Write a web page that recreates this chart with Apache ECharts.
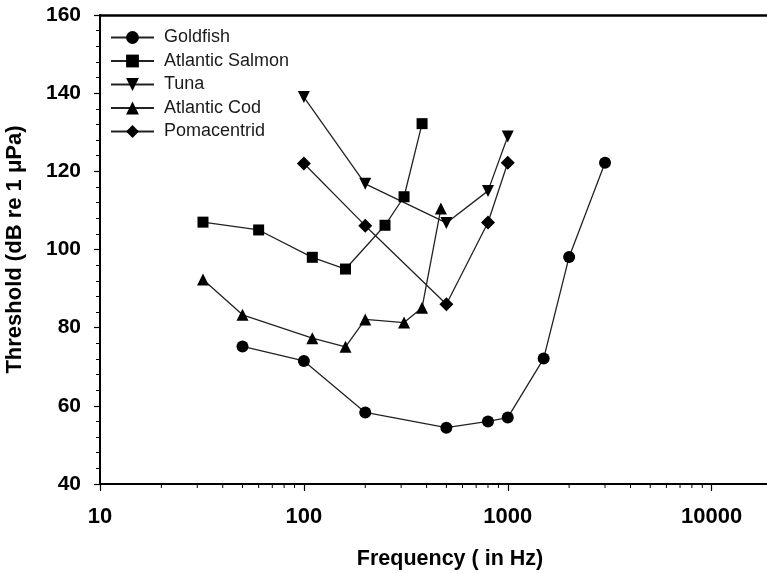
<!DOCTYPE html>
<html>
<head>
<meta charset="utf-8">
<script src="https://cdn.jsdelivr.net/npm/echarts@6/dist/echarts.min.js"></script>
<style>
  html, body { margin: 0; padding: 0; background: #fff; }
  #chart1 { width: 767px; height: 573px; }
</style>
</head>
<body>
<div id="chart1"></div>
<script>
// frequency (Hz), threshold (dB re 1 uPa)
var goldfish = [[50, 75.2], [100, 71.5], [200, 58.3], [500, 54.4], [800, 56], [1000, 57], [1500, 72.1], [2000, 98.1], [3000, 122.2]];
var atlanticSalmon = [[32, 107], [60, 105], [110, 98], [160, 95], [250, 106.2], [310, 113.5], [380, 132.2]];
var tuna = [[100, 139], [200, 116.8], [500, 106.8], [800, 115], [1000, 128.9]];
var atlanticCod = [[32, 92.3], [50, 83.3], [110, 77.3], [160, 75.1], [200, 82.1], [310, 81.3], [380, 85.1], [470, 110.5]];
var pomacentrid = [[100, 122], [200, 106.1], [500, 86], [800, 106.9], [1000, 122.2]];

var seriesNames = ['Goldfish', 'Atlantic Salmon', 'Tuna', 'Atlantic Cod', 'Pomacentrid'];
var yTicks = [40, 60, 80, 100, 120, 140, 160];
var xTicks = [10, 100, 1000, 10000];

var fontFam = "'Liberation Sans', Arial, sans-serif";

function makeSeries(name, data, symbol, size, rotate) {
  return {
    name: name,
    type: 'line',
    data: data,
    symbol: symbol,
    symbolSize: size,
    symbolRotate: rotate || 0,
    showAllSymbol: true,
    z: 3,
    lineStyle: { color: '#222', width: 1.3 },
    itemStyle: { color: '#000', borderWidth: 0 }
  };
}

var myChart = echarts.init(document.getElementById('chart1'));
var option = {
  animation: false,
  backgroundColor: '#fff',
  grid: {
    left: 100,
    top: 15,
    right: -6,
    bottom: 89,
    outerBoundsMode: 'none',
    containLabel: false,
    show: false
  },
  legend: {
    orient: 'vertical',
    left: 110,
    top: 28.5,
    padding: 0,
    itemWidth: 43,
    itemHeight: 16,
    itemGap: 5.5,
    data: seriesNames,
    textStyle: {
      fontFamily: fontFam,
      fontSize: 18,
      lineHeight: 18,
      color: '#1a1a1a',
      padding: [0, 0, 0, 5]
    }
  },
  xAxis: [{
    type: 'log',
    logBase: 10,
    min: 10,
    max: 20000,
    name: 'Frequency ( in Hz)',
    nameLocation: 'middle',
    nameGap: 64,
    nameTextStyle: {
      fontFamily: fontFam,
      fontSize: 21.5,
      fontWeight: 'bold',
      color: '#000',
      padding: [0, 0, 0, 27]
    },
    axisLine: { lineStyle: { color: '#000', width: 2 } },
    axisTick: { show: true, length: 7, lineStyle: { color: '#000', width: 1.2 } },
    minorTick: { show: false },
    splitLine: { show: false },
    axisLabel: {
      margin: 22,
      showMaxLabel: false,
      fontFamily: fontFam,
      fontSize: 22,
      fontWeight: 'bold',
      color: '#000',
      formatter: function (v) {
        return xTicks.indexOf(Math.round(v)) >= 0 ? String(Math.round(v)) : '';
      }
    }
  }, {
    // top frame line only
    type: 'value',
    position: 'top',
    min: 0,
    max: 1,
    axisLine: { show: true, onZero: false, lineStyle: { color: '#000', width: 2.5 } },
    axisTick: { show: false },
    axisLabel: { show: false },
    splitLine: { show: false }
  }],
  yAxis: {
    type: 'value',
    min: yTicks[0],
    max: yTicks[yTicks.length - 1],
    interval: 20,
    name: 'Threshold (dB re 1 \u03bcPa)',
    nameLocation: 'middle',
    nameGap: 74,
    nameTextStyle: {
      fontFamily: fontFam,
      fontSize: 22,
      fontWeight: 'bold',
      color: '#000'
    },
    axisLine: { show: true, lineStyle: { color: '#000', width: 2 } },
    axisTick: { show: true, length: 6, lineStyle: { color: '#000', width: 1.2 } },
    minorTick: { show: true, splitNumber: 5, length: 4, lineStyle: { color: '#000', width: 1 } },
    splitLine: { show: false },
    axisLabel: {
      margin: 19,
      fontFamily: fontFam,
      fontSize: 21,
      fontWeight: 'bold',
      color: '#000'
    }
  },
  series: [
    makeSeries(seriesNames[0], goldfish, 'circle', 12),
    makeSeries(seriesNames[1], atlanticSalmon, 'rect', 11),
    makeSeries(seriesNames[2], tuna, 'triangle', 12, 180),
    makeSeries(seriesNames[3], atlanticCod, 'triangle', 12),
    makeSeries(seriesNames[4], pomacentrid, 'diamond', 14)
  ]
};
myChart.setOption(option);

// minor ticks of the log axis (2..9 in every decade), placed through the axis scale
var minorLines = [];
for (var d = 10; d < 10000; d = d * 10) {
  for (var k = 2; k <= 9; k++) {
    var p = myChart.convertToPixel({ xAxisIndex: 0, yAxisIndex: 0 }, [d * k, yTicks[0]]);
    minorLines.push({
      type: 'line',
      silent: true,
      shape: { x1: p[0], y1: p[1], x2: p[0], y2: p[1] + 4 },
      style: { stroke: '#000', lineWidth: 1 }
    });
  }
}
myChart.setOption({ graphic: minorLines });
</script>
</body>
</html>
